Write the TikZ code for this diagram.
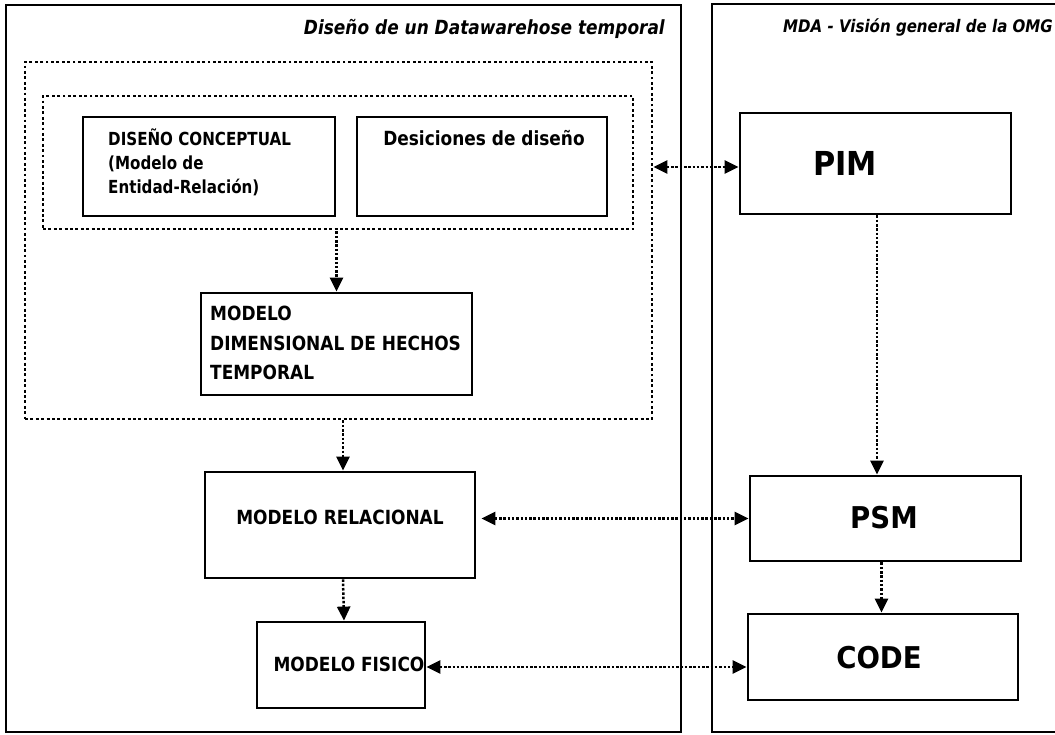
\documentclass[tikz,border=0pt]{standalone}
\usepackage{fontspec}
\newfontfamily\labelfont{DejaVu Sans}[FakeStretch=0.87]
\newfontfamily\narrowfont{DejaVu Sans}[FakeStretch=0.84]
\newfontfamily\bigfont{DejaVu Sans}[FakeStretch=0.92]
\usetikzlibrary{arrows.meta}
\begin{document}
\begin{tikzpicture}[x=1pt,y=-1pt,
  frame/.style={draw,line width=2.6pt},
  dotbox/.style={draw,line width=2.9pt,dash pattern=on 2.9pt off 2.5pt},
  box/.style={draw,line width=2.8pt,rectangle,inner sep=0pt},
  txt/.style={inner sep=0pt,font=\labelfont\bfseries\fontsize{19.5}{24}\selectfont},
  bigtxt/.style={inner sep=0pt,font=\bigfont\bfseries\fontsize{30}{36}\selectfont},
  ttl/.style={inner sep=0pt,font=\labelfont\bfseries\itshape\fontsize{19.5}{22}\selectfont},
  tip/.tip={Triangle[length=14pt,width=13pt]},
  flow/.style={line width=2.5pt,dash pattern=on 2.5pt off 1.8pt,-tip},
  flow2/.style={line width=2.5pt,dash pattern=on 2.5pt off 1.8pt,tip-tip}]
\useasboundingbox (0,0) rectangle (1055,734);
\clip (0,0) rectangle (1055,734);
\fill[white] (0,0) rectangle (1055,734);

% the two panels
\draw[frame] (6,5) rectangle (681,732);
\draw[frame] (712,4) rectangle (1075,732);
\node[ttl,anchor=east] (ttlL) at (665,29) {Diseño de un Datawarehose temporal};
\node[ttl,anchor=west,font=\labelfont\bfseries\itshape\fontsize{17.3}{20}\selectfont] (ttlR) at (783,27) {MDA - Visión general de la OMG};

% dotted groups
\node[dotbox,inner sep=0pt,minimum width=627pt,minimum height=357pt] (outer) at (338.5,240.5) {};
\node[dotbox,inner sep=0pt,minimum width=590pt,minimum height=133pt] (inner) at (338,162.5) {};

% left column
\node[box,minimum width=252pt,minimum height=99pt] (concept) at (209,166.5) {};
\node[txt,anchor=west,align=left,font=\narrowfont\bfseries\fontsize{18}{24}\selectfont] (conceptT) at (108,162) {DISEÑO CONCEPTUAL\\(Modelo de\\Entidad-Relación)};
\node[box,minimum width=250pt,minimum height=99pt] (desic) at (482,166.5) {};
\node[txt] (desicT) at (484,138) {Desiciones de diseño};

\node[box,minimum width=271pt,minimum height=102pt] (dim) at (336.5,344) {};
\node[txt,anchor=west,align=left,font=\labelfont\bfseries\fontsize{19.5}{29.5}\selectfont] (dimT) at (210,343) {MODELO\\DIMENSIONAL DE HECHOS\\TEMPORAL};

\node[box,minimum width=270pt,minimum height=106pt] (rel) at (340,525) {};
\node[txt] (relT) at (340,517) {MODELO RELACIONAL};

\node[box,minimum width=168pt,minimum height=86pt] (fis) at (341,665) {};
\node[txt] (fisT) at (349,664) {MODELO FISICO};

% right column
\node[box,minimum width=271pt,minimum height=101pt] (pim) at (875.5,163.5) {};
\node[bigtxt,font=\bigfont\bfseries\fontsize{33}{38}\selectfont] (pimT) at (845,163) {PIM};
\node[box,minimum width=271pt,minimum height=85pt] (psm) at (885.5,518.5) {};
\node[bigtxt] (psmT) at (884,518) {PSM};
\node[box,minimum width=270pt,minimum height=86pt] (code) at (883,657) {};
\node[bigtxt] (codeT) at (879,658) {CODE};

% connectors
\draw[flow] (inner.south -| dim.north) ++(0,1) -- (dim.north);
\draw[flow] ([xshift=3pt]outer.south -| rel.north) -- ([xshift=3pt]rel.north);
\draw[flow] ([xshift=3pt]rel.south) -- ([xshift=3pt]fis.north);
\draw[flow] ([xshift=1.5pt]pim.south) -- ([xshift=1.5pt]pim.south |- psm.north);
\draw[flow] ([xshift=-4pt]psm.south) -- ([xshift=-4pt]psm.south |- code.north);
\draw[flow2] (outer.east |- 0,167) -- (pim.west |- 0,167);
\draw[flow2] ([xshift=5pt]rel.east |- psm.west) -- (psm.west);
\draw[flow2] (fis.east |- 0,667) -- (code.west |- 0,667);
\end{tikzpicture}
\end{document}
